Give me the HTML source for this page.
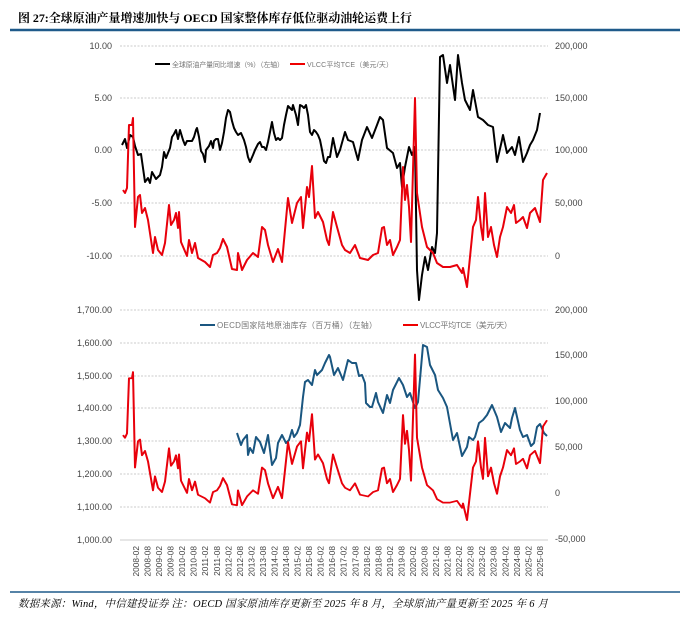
<!DOCTYPE html>
<html><head><meta charset="utf-8"><style>
body{margin:0;background:#fff;width:690px;height:626px;overflow:hidden}
svg{display:block}
text{font-family:"Liberation Sans","Noto Sans CJK SC",sans-serif}
</style></head><body>
<svg width="690" height="626" viewBox="0 0 690 626">
<text x="18" y="22" font-size="12" font-weight="bold" fill="#000" textLength="394" style="font-family:'Liberation Serif','Noto Serif CJK SC',serif">图 27:全球原油产量增速加快与 OECD 国家整体库存低位驱动油轮运费上行</text>
<line x1="10" y1="30" x2="680" y2="30" stroke="#1f5a8a" stroke-width="2.5"/>
<g stroke="#bbb" stroke-width="0.8" stroke-dasharray="2,1.5">
<line x1="120" y1="46" x2="548" y2="46"/><line x1="120" y1="98" x2="548" y2="98"/><line x1="120" y1="150" x2="548" y2="150"/><line x1="120" y1="203" x2="548" y2="203"/><line x1="120" y1="256" x2="548" y2="256"/>
<line x1="120" y1="310" x2="548" y2="310"/><line x1="120" y1="343" x2="548" y2="343"/><line x1="120" y1="376" x2="548" y2="376"/><line x1="120" y1="408" x2="548" y2="408"/><line x1="120" y1="441" x2="548" y2="441"/><line x1="120" y1="474" x2="548" y2="474"/><line x1="120" y1="507" x2="548" y2="507"/>
</g>
<line x1="120" y1="540" x2="548" y2="540" stroke="#ccc" stroke-width="1"/>
<g font-size="9" fill="#444" text-anchor="end">
<text x="112" y="49">10.00</text><text x="112" y="101">5.00</text><text x="112" y="153">0.00</text><text x="112" y="206">-5.00</text><text x="112" y="259">-10.00</text>
<text x="112" y="313">1,700.00</text><text x="112" y="346">1,600.00</text><text x="112" y="379">1,500.00</text><text x="112" y="411">1,400.00</text><text x="112" y="444">1,300.00</text><text x="112" y="477">1,200.00</text><text x="112" y="510">1,100.00</text><text x="112" y="543">1,000.00</text>
</g>
<g font-size="9" fill="#444">
<text x="555" y="49">200,000</text><text x="555" y="101">150,000</text><text x="555" y="153">100,000</text><text x="555" y="206">50,000</text><text x="555" y="259">0</text>
<text x="555" y="313">200,000</text><text x="555" y="358">150,000</text><text x="555" y="404">100,000</text><text x="555" y="450">50,000</text><text x="555" y="496">0</text><text x="555" y="542">-50,000</text>
</g>
<g fill="#777">
<line x1="155" y1="64" x2="170" y2="64" stroke="#000" stroke-width="2"/><text x="172" y="67" font-size="7" textLength="112">全球原油产量同比增速（%）（左轴）</text>
<line x1="290" y1="64" x2="305" y2="64" stroke="#e00" stroke-width="2"/><text x="307" y="67" font-size="7" textLength="86">VLCC平均TCE（美元/天）</text>
<line x1="200" y1="325" x2="215" y2="325" stroke="#1a5680" stroke-width="2"/><text x="217" y="328" font-size="8" textLength="160">OECD国家陆地原油库存（百万桶）（左轴）</text>
<line x1="403" y1="325" x2="418" y2="325" stroke="#e00" stroke-width="2"/><text x="420" y="328" font-size="8" textLength="92">VLCC平均TCE（美元/天）</text>
</g>
<polyline fill="none" stroke="#000" stroke-width="2" stroke-linejoin="round" points="122,145 125,139 127,148 130,135 133,137 135,146 138,155 141,154 143,168 145,182 148,178 150,183 152,172 156,179 160,175 162,167 164,152 166,158 170,148 172,137 174,134 176,130 178,139 180,130 183,140 185,145 187,141 190,141 192,141 194,137 196,130 197,128 199,137 201,151 203,154 205,162 206,150 209,146 211,141 213,148 214,141 216,139 218,139 220,150 222,143 224,132 226,118 228,110 230,112 232,121 234,128 236,132 238,135 241,133 244,140 246,147 248,157 250,162 253,155 255,150 258,144 260,142 262,147 264,147 266,150 268,142 270,132 272,122 274,133 276,140 278,138 280,140 282,138 284,125 286,115 288,106 290,108 292,110 293,105 296,115 298,125 300,105 302,106 304,108 306,105 308,115 310,132 312,135 314,130 316,132 318,135 320,140 322,150 324,161 326,163 328,157 330,157 333,138 337,157 340,150 345,132 348,140 353,142 358,160 362,140 367,127 372,138 377,125 380,117 383,120 387,148 393,153 397,168 400,163 402,187 405,167 409,147 412,155 415,147 417,270 419,300 422,275 425,257 428,270 432,247 435,253 437,233 440,57 443,55 447,83 450,65 455,100 458,55 462,83 465,100 470,110 473,90 478,117 483,120 488,125 493,127 497,162 502,140 503,135 507,153 512,147 515,155 519,137 523,162 527,153 530,145 533,140 537,130 540,113"/>
<polyline id="red" fill="none" stroke="#e8000b" stroke-width="2" stroke-linejoin="round" points="123,190 125,193 127,188 129,125 132,125 133,118 135,227 138,197 140,195 142,213 145,208 148,220 153,253 155,237 158,250 162,255 165,243 169,205 171,225 174,220 176,213 178,228 179,212 181,242 187,256 189,240 192,253 195,243 198,258 205,262 210,267 213,255 217,253 220,248 223,239 227,247 232,269 237,270 238,253 242,270 247,260 253,253 258,257 262,227 265,230 268,245 273,262 278,249 282,262 288,198 292,223 297,203 301,197 303,228 307,187 309,197 312,166 315,218 318,212 323,222 327,240 329,245 333,212 337,227 342,245 345,250 350,253 355,245 360,258 368,260 373,255 378,253 382,228 384,227 387,245 390,240 393,255 397,247 400,240 403,167 405,200 407,185 409,207 411,242 415,98 417,193 422,227 427,247 433,253 437,263 443,267 450,267 457,265 462,273 463,268 467,287 470,257 473,227 476,220 478,197 481,227 483,240 485,193 488,237 491,227 494,245 497,257 500,237 503,227 507,207 511,213 514,205 516,223 520,220 523,217 527,228 530,213 535,208 540,222 543,180 547,173"/>
<polyline fill="none" stroke="#1a5680" stroke-width="2" stroke-linejoin="round" points="237,433 241,445 243,440 247,435 248,455 250,448 253,453 256,437 260,442 264,453 268,435 272,465 276,458 278,443 282,435 286,443 289,440 292,430 294,437 297,433 300,425 303,397 305,382 308,380 312,385 315,370 317,375 322,370 325,363 329,355 330,357 334,375 338,368 343,380 348,360 352,363 356,363 359,376 362,375 365,383 366,403 370,407 372,407 376,393 378,402 383,413 387,395 390,403 393,390 399,378 403,385 407,397 410,393 415,408 418,402 423,345 427,347 430,365 435,375 438,390 443,398 447,407 453,440 457,433 462,456 467,447 469,437 473,440 475,437 479,423 483,420 487,415 492,405 497,417 501,432 505,423 510,428 512,418 515,408 520,430 523,437 527,435 531,446 534,443 537,427 540,424 544,433 547,436"/>
<use href="#red" transform="translate(0,268.7) scale(1,0.876)" style="vector-effect:non-scaling-stroke"/>
<g font-size="8.3" fill="#444" text-anchor="end">
<text transform="translate(139,546) rotate(-90)">2008-02</text><text transform="translate(150.5,546) rotate(-90)">2008-08</text><text transform="translate(162,546) rotate(-90)">2009-02</text><text transform="translate(173.6,546) rotate(-90)">2009-08</text><text transform="translate(185.2,546) rotate(-90)">2010-02</text><text transform="translate(196.7,546) rotate(-90)">2010-08</text><text transform="translate(208.2,546) rotate(-90)">2011-02</text><text transform="translate(219.8,546) rotate(-90)">2011-08</text><text transform="translate(231.3,546) rotate(-90)">2012-02</text><text transform="translate(242.9,546) rotate(-90)">2012-08</text><text transform="translate(254.4,546) rotate(-90)">2013-02</text><text transform="translate(265.9,546) rotate(-90)">2013-08</text><text transform="translate(277.5,546) rotate(-90)">2014-02</text><text transform="translate(289,546) rotate(-90)">2014-08</text><text transform="translate(300.6,546) rotate(-90)">2015-02</text><text transform="translate(312.1,546) rotate(-90)">2015-08</text><text transform="translate(323.6,546) rotate(-90)">2016-02</text><text transform="translate(335.2,546) rotate(-90)">2016-08</text><text transform="translate(346.7,546) rotate(-90)">2017-02</text><text transform="translate(358.3,546) rotate(-90)">2017-08</text><text transform="translate(369.8,546) rotate(-90)">2018-02</text><text transform="translate(381.3,546) rotate(-90)">2018-08</text><text transform="translate(392.9,546) rotate(-90)">2019-02</text><text transform="translate(404.4,546) rotate(-90)">2019-08</text><text transform="translate(416,546) rotate(-90)">2020-02</text><text transform="translate(427.5,546) rotate(-90)">2020-08</text><text transform="translate(439,546) rotate(-90)">2021-02</text><text transform="translate(450.6,546) rotate(-90)">2021-08</text><text transform="translate(462.1,546) rotate(-90)">2022-02</text><text transform="translate(473.7,546) rotate(-90)">2022-08</text><text transform="translate(485.2,546) rotate(-90)">2023-02</text><text transform="translate(496.7,546) rotate(-90)">2023-08</text><text transform="translate(508.3,546) rotate(-90)">2024-02</text><text transform="translate(519.8,546) rotate(-90)">2024-08</text><text transform="translate(531.4,546) rotate(-90)">2025-02</text><text transform="translate(542.9,546) rotate(-90)">2025-08</text>
</g>
<line x1="10" y1="592" x2="680" y2="592" stroke="#1f5a8a" stroke-width="1.5"/>
<text x="18" y="607" font-size="10.5" font-style="italic" fill="#000" textLength="530" style="font-family:'Liberation Serif','Noto Serif CJK SC',serif">数据来源：Wind，中信建投证券  注：OECD 国家原油库存更新至 2025 年 8 月，全球原油产量更新至 2025 年 6 月</text>
</svg>
</body></html>
